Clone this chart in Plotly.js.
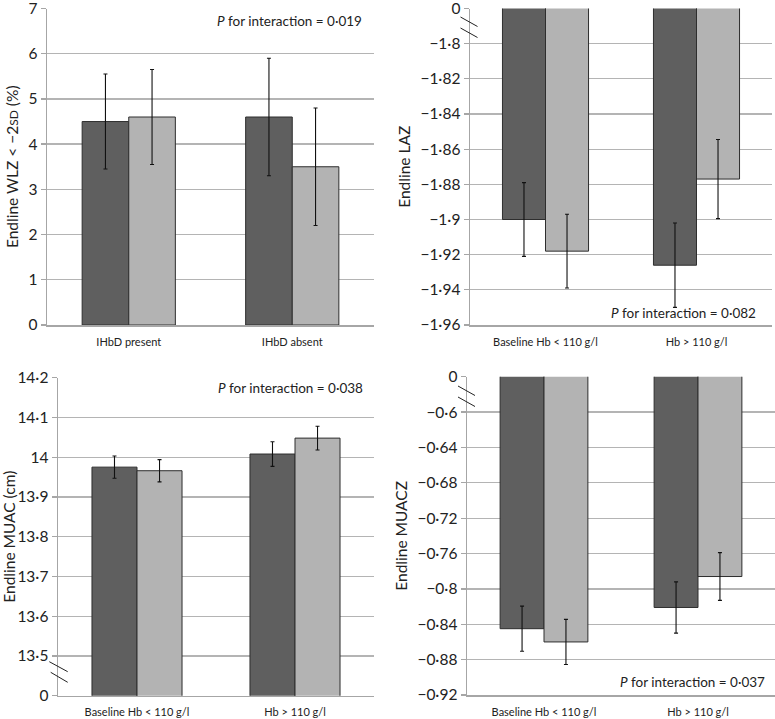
<!DOCTYPE html>
<html>
<head>
<meta charset="utf-8">
<script src="https://cdn.plot.ly/plotly-3.0.1.min.js"></script>
<style>html,body{margin:0;padding:0;background:#fff;}#chart{width:775px;height:719px;}</style>
</head>
<body>
<div id="chart"></div>
<script>
// ---- Panel A: Endline WLZ < -2SD (%) ----
const wlzCategories = ["IHbD present", "IHbD absent"];
const wlzDark = [4.5, 4.6];
const wlzDarkErr = [1.05, 1.3];
const wlzLight = [4.6, 3.5];
const wlzLightErr = [1.05, 1.3];
const wlzTickVals = [0, 1, 2, 3, 4, 5, 6, 7];
const wlzTickText = ["0", "1", "2", "3", "4", "5", "6", "7"];

// ---- Panel B: Endline LAZ ----
const hbCategories = ["Baseline Hb < 110 g/l", "Hb > 110 g/l"];
const lazDark = [-1.900, -1.926];
const lazDarkErr = [0.021, 0.024];
const lazLight = [-1.918, -1.877];
const lazLightErr = [0.021, 0.0225];
const lazTickVals = [-1.96, -1.94, -1.92, -1.90, -1.88, -1.86, -1.84, -1.82, -1.80, -1.78];
const lazTickText = ["−1·96", "−1·94", "−1·92", "−1·9", "−1·88", "−1·86", "−1·84", "−1·82", "−1·8", "0"];

// ---- Panel C: Endline MUAC (cm) ----
const muacDark = [13.975, 14.008];
const muacDarkErr = [0.028, 0.031];
const muacLight = [13.966, 14.048];
const muacLightErr = [0.028, 0.030];
const muacTickVals = [13.4, 13.5, 13.6, 13.7, 13.8, 13.9, 14.0, 14.1, 14.2];
const muacTickText = ["0", "13·5", "13·6", "13·7", "13·8", "13·9", "14", "14·1", "14·2"];

// ---- Panel D: Endline MUACZ ----
const muaczDark = [-0.845, -0.821];
const muaczDarkErr = [0.0255, 0.029];
const muaczLight = [-0.860, -0.786];
const muaczLightErr = [0.0255, 0.027];
const muaczTickVals = [-0.92, -0.88, -0.84, -0.80, -0.76, -0.72, -0.68, -0.64, -0.60, -0.56];
const muaczTickText = ["−0·92", "−0·88", "−0·84", "−0·8", "−0·76", "−0·72", "−0·68", "−0·64", "−0·6", "0"];

const pValues = ["0·019", "0·082", "0·038", "0·037"];

const DARK = "#5f5f5f", LIGHT = "#b3b3b3", OUTLINE = "#2e2e2e";
const FONT = "Lato, 'Open Sans', sans-serif";

function barPair(cats, dv, de, lv, le, xa, ya) {
  const eb = (arr) => ({type: "data", array: arr, visible: true, color: "#111", thickness: 1.1, width: 2});
  return [
    {type: "bar", x: cats, y: dv, xaxis: xa, yaxis: ya, marker: {color: DARK, line: {color: OUTLINE, width: 1}}, error_y: eb(de), showlegend: false, hoverinfo: "skip"},
    {type: "bar", x: cats, y: lv, xaxis: xa, yaxis: ya, marker: {color: LIGHT, line: {color: OUTLINE, width: 1}}, error_y: eb(le), showlegend: false, hoverinfo: "skip"}
  ];
}

const data = [].concat(
  barPair(wlzCategories, wlzDark, wlzDarkErr, wlzLight, wlzLightErr, "x", "y"),
  barPair(hbCategories, lazDark, lazDarkErr, lazLight, lazLightErr, "x2", "y2"),
  barPair(hbCategories, muacDark, muacDarkErr, muacLight, muacLightErr, "x3", "y3"),
  barPair(hbCategories, muaczDark, muaczDarkErr, muaczLight, muaczLightErr, "x4", "y4")
);

const W = 775, H = 719;
const px = (v) => v / W;
const py = (v) => 1 - v / H;

function xAxis(domain, anchor) {
  return {
    domain: domain, anchor: anchor, showline: true, linecolor: "#a6a6a6", linewidth: 1.5,
    ticks: "", showgrid: false, zeroline: false, fixedrange: true,
    tickfont: {family: FONT, size: 11, color: "#222"}, ticklabelstandoff: 6
  };
}
function yAxis(domain, anchor, range, tv, tt, title) {
  return {
    domain: domain, anchor: anchor, range: range, tickmode: "array", tickvals: tv, ticktext: tt,
    showline: true, linecolor: "#a6a6a6", linewidth: 1.5,
    ticks: "outside", ticklen: 5, tickcolor: "#a6a6a6", tickwidth: 1.3,
    ticklabeloverflow: "allow",
    showgrid: true, gridcolor: "#b4b4b4", gridwidth: 1.3, zeroline: false, fixedrange: true,
    tickfont: {family: FONT, size: 15.5, color: "#222"},
    title: {text: title, font: {family: FONT, size: 15.5, color: "#222"}, standoff: 6}
  };
}

const layout = {
  width: W, height: H, margin: {l: 0, r: 0, t: 0, b: 0},
  paper_bgcolor: "#fff", plot_bgcolor: "#fff",
  barmode: "group", bargap: 0.43, bargroupgap: 0,
  xaxis: xAxis([px(47), px(374)], "y"),
  yaxis: yAxis([py(325), py(8.5)], "x", [0, 7], wlzTickVals, wlzTickText, "Endline WLZ < −2<span style=\"font-size:12px\">SD</span> (%)"),
  xaxis2: xAxis([px(470), px(772)], "y2"),
  yaxis2: yAxis([py(325), py(8.5)], "x2", [-1.96, -1.78], lazTickVals, lazTickText, "Endline LAZ"),
  xaxis3: xAxis([px(58), px(374)], "y3"),
  yaxis3: yAxis([py(695.7), py(377.7)], "x3", [13.4, 14.2], muacTickVals, muacTickText, "Endline MUAC (cm)"),
  xaxis4: xAxis([px(467), px(775)], "y4"),
  yaxis4: yAxis([py(695), py(376.7)], "x4", [-0.92, -0.56], muaczTickVals, muaczTickText, "Endline MUACZ"),
  annotations: [
    {xref: "paper", yref: "paper", x: px(364), y: py(21), xanchor: "right", yanchor: "middle", showarrow: false,
     text: "<i>P</i> for interaction = " + pValues[0], font: {family: FONT, size: 13.5, color: "#222"}},
    {xref: "paper", yref: "paper", x: px(758), y: py(313), xanchor: "right", yanchor: "middle", showarrow: false,
     text: "<i>P</i> for interaction = " + pValues[1], font: {family: FONT, size: 13.5, color: "#222"}},
    {xref: "paper", yref: "paper", x: px(365), y: py(388), xanchor: "right", yanchor: "middle", showarrow: false,
     text: "<i>P</i> for interaction = " + pValues[2], font: {family: FONT, size: 13.5, color: "#222"}},
    {xref: "paper", yref: "paper", x: px(767), y: py(682), xanchor: "right", yanchor: "middle", showarrow: false,
     text: "<i>P</i> for interaction = " + pValues[3], font: {family: FONT, size: 13.5, color: "#222"}}
  ],
  shapes: [
    // axis-break marks
    {type: "line", xref: "paper", yref: "paper", x0: px(460.5), y0: py(17), x1: px(477.5), y1: py(26.5), line: {color: "#222", width: 1}},
    {type: "line", xref: "paper", yref: "paper", x0: px(460.5), y0: py(28), x1: px(477.5), y1: py(37.5), line: {color: "#222", width: 1}},
    {type: "line", xref: "paper", yref: "paper", x0: px(49.3), y0: py(661.7), x1: px(67.7), y1: py(671.7), line: {color: "#222", width: 1}},
    {type: "line", xref: "paper", yref: "paper", x0: px(50.7), y0: py(672.3), x1: px(67.7), y1: py(682.3), line: {color: "#222", width: 1}},
    {type: "line", xref: "paper", yref: "paper", x0: px(458), y0: py(386), x1: px(475), y1: py(395.5), line: {color: "#222", width: 1}},
    {type: "line", xref: "paper", yref: "paper", x0: px(458), y0: py(397), x1: px(475), y1: py(406.5), line: {color: "#222", width: 1}}
  ]
};

Plotly.newPlot("chart", data, layout, {displayModeBar: false, staticPlot: true});
</script>
</body>
</html>
